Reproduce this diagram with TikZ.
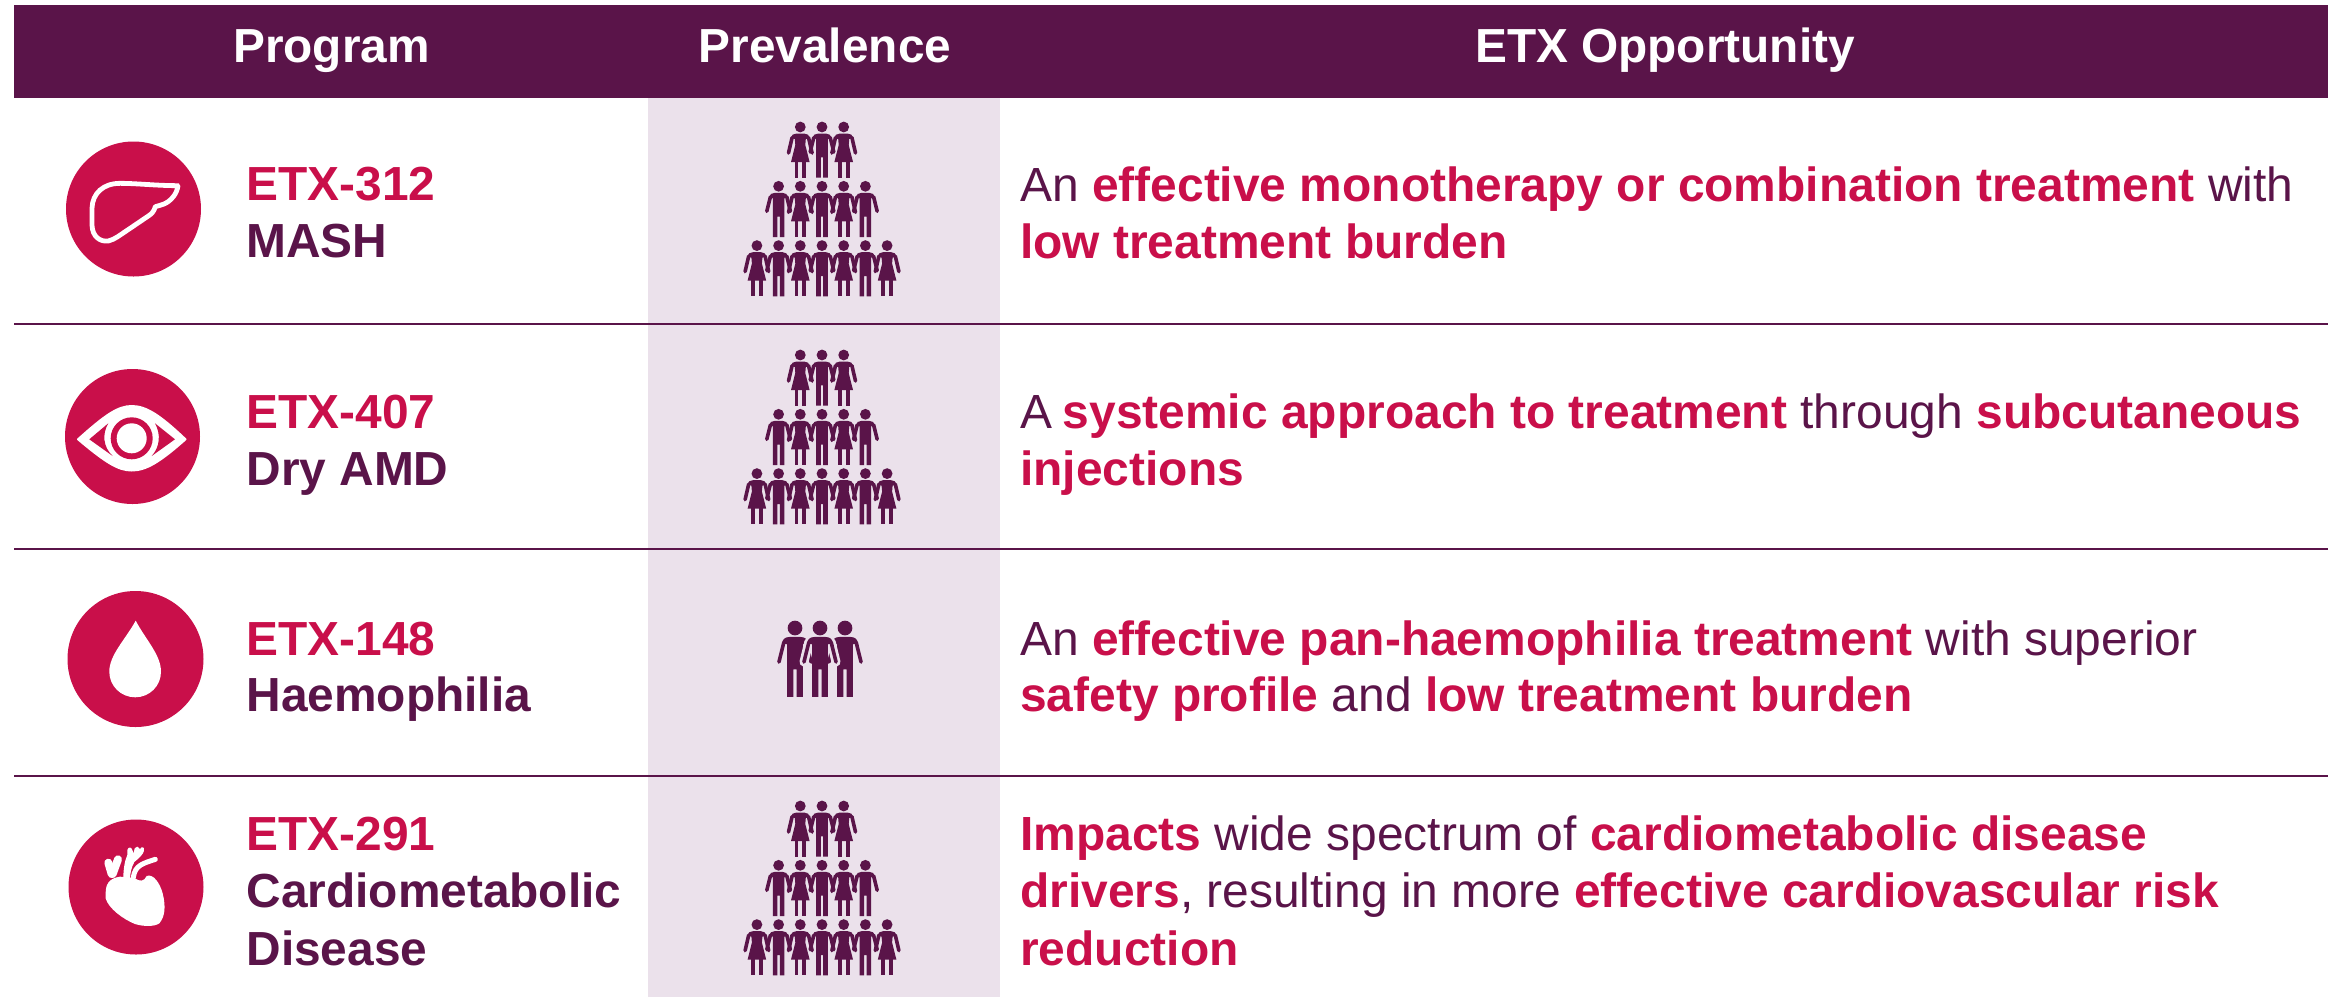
\documentclass[tikz,border=0pt]{standalone}
\usepackage{fontspec}
\setmainfont{Liberation Sans}
\definecolor{plum}{HTML}{5A1449}
\definecolor{crim}{HTML}{C90F4A}
\definecolor{paleplum}{HTML}{EBE1EB}
\newcommand{\pk}[1]{\textcolor{crim}{\textbf{#1}}}
\newcommand{\dk}[1]{\textcolor{plum}{\textbf{#1}}}
\tikzset{
  hd/.style={font=\fontsize{47.8}{57}\selectfont\bfseries,text=white,anchor=base,inner sep=0pt},
  lab/.style={font=\fontsize{47.85}{57}\selectfont,text=plum,anchor=base west,inner sep=0pt},
  opp/.style={lab,font=\fontsize{47.93}{57}\selectfont},
  rowline/.style={draw=plum,line width=2pt},
  iconcirc/.style={fill=crim,draw=none},
  man/.pic={
    \fill[plum] (0,0) circle[radius=5.4];
    \fill[plum] (-5.8,50.7)--(-5.8,12)--(-9.5,11) .. controls (-9,8) and (-7,6.6) .. (-4,6.6)--(4,6.6) .. controls (7,6.6) and (9,8) .. (9.5,11)--(5.8,12)--(5.8,50.7)--(1.2,50.7)--(1.2,30.4)--(-1.2,30.4)--(-1.2,50.7)--cycle;
    \draw[plum,line width=3.6pt,line cap=round] (-8.2,10.5)--(-11.8,25);
    \draw[plum,line width=3.6pt,line cap=round] (8.2,10.5)--(11.8,25);
  },
  woman/.pic={
    \fill[plum] (0,0) circle[radius=5.4];
    \fill[plum] (-9.3,35)--(-5,18)--(-5.5,12)--(-9.5,11) .. controls (-9,8) and (-7,6.6) .. (-4,6.6)--(4,6.6) .. controls (7,6.6) and (9,8) .. (9.5,11)--(5.5,12)--(5,18)--(9.3,35)--cycle;
    \fill[plum] (-5.7,34)--(-2,34)--(-2,50.7)--(-5.7,50.7)--cycle;
    \fill[plum] (2.1,34)--(5.8,34)--(5.8,50.7)--(2.1,50.7)--cycle;
    \draw[plum,line width=3.6pt,line cap=round] (-8.2,10.5)--(-11.8,26);
    \draw[plum,line width=3.6pt,line cap=round] (8.2,10.5)--(11.8,26);
  },
  pyramid/.pic={
    \foreach \i in {-1,1} \path (\i*21.7,0) pic {woman};
    \path (0,0) pic {man};
    \foreach \i in {-2,0,2} \path (\i*21.7,59.3) pic {man};
    \foreach \i in {-1,1} \path (\i*21.7,59.3) pic {woman};
    \foreach \i in {-3,-1,1,3} \path (\i*21.7,118.6) pic {woman};
    \foreach \i in {-2,0,2} \path (\i*21.7,118.6) pic {man};
  }
}
\begin{document}
\begin{tikzpicture}[x=1pt,y=-1pt]
\useasboundingbox (0,0) rectangle (2338,997);
\fill[white] (0,0) rectangle (2338,997);
% header and shaded column
\fill[plum] (14,5) rectangle (2328,98);
\fill[paleplum] (648,98) rectangle (1000,997);
\foreach \y in {323.5,549,775.5} \draw[rowline] (14,\y)--(2328,\y);
\node[hd] (h1) at (331.5,62) {Program};
\node[hd] (h2) at (825,62) {Prevalence};
\node[hd] (h3) at (1665,62) {ETX Opportunity};
% icon circles
\fill[iconcirc] (133.5,209) circle[radius=67.5];
\fill[iconcirc] (132.5,436.5) circle[radius=67.5];
\fill[iconcirc] (135.5,659) circle[radius=68];
\fill[iconcirc] (136,887) circle[radius=67.5];
% liver
\begin{scope}[shift={(60,140)},scale=1/3]
\draw[white,line width=4.8pt,line join=round] (354,137) .. controls (290,137) and (230,130) .. (180,130) .. controls (130,130) and (97,160) .. (96,205) -- (96,255) .. controls (97,290) and (120,306) .. (145,303) .. controls (165,298) and (180,285) .. (200,272) -- (265,228) .. controls (278,220) and (282,212) .. (286,200) .. controls (300,195) and (320,195) .. (340,170) .. controls (348,160) and (352,150) .. cycle;
\end{scope}
% eye
\fill[white,line join=round,draw=white,line width=2pt] (78,439.3) .. controls (105,415) and (118,406) .. (131.7,406) .. controls (146,406) and (160,415) .. (185.5,439.3) .. controls (160,462) and (146,470.5) .. (131.7,470.5) .. controls (118,470.5) and (105,462) .. cycle;
\fill[crim] (89.3,439.3)--(108.3,423.3) .. controls (102,434) and (103,447) .. (112.7,456)--cycle;
\fill[crim] (175,439.3)--(155,423.3) .. controls (161,434) and (160,447) .. (151.7,456)--cycle;
\fill[crim] (131.7,438.3) circle[radius=21];
\fill[white] (131.7,438.3) circle[radius=15];
% drop
\fill[white] (135.7,620.7) .. controls (125,640) and (109.3,655) .. (109.3,671.7) .. controls (109.3,686) and (121,697.3) .. (135.2,697.3) .. controls (149.5,697.3) and (161,686) .. (161,671.7) .. controls (161,655) and (146,640) .. cycle;
% heart
\begin{scope}[shift={(40,770)},scale=1/3]
\fill[white] (197,370) .. controls (197,345) and (205,325) .. (240,320) -- (268,322) -- (285,325) .. controls (300,335) and (312,335) .. (320,318) .. controls (340,310) and (360,340) .. (368,370) .. controls (378,410) and (375,440) .. (358,460) .. controls (345,470) and (310,470) .. (285,462) .. controls (250,448) and (205,415) .. (197,385) -- cycle;
\draw[white,line width=8pt,line cap=round,line join=round] (215,312)--(205,278);
\draw[white,line width=8pt,line cap=round,line join=round] (218,312)--(234,268);
\fill[white] (250,325) .. controls (250,295) and (255,270) .. (262,255) -- (262,240) .. controls (265,230) and (274,230) .. (277,240) -- (281,250) -- (284,235) .. controls (288,228) and (296,228) .. (298,235) -- (300,238) .. controls (304,226) and (315,232) .. (312,242) .. controls (310,252) and (300,262) .. (283,276) .. controls (275,290) and (270,310) .. (270,328) -- cycle;
\draw[white,line width=5pt,line cap=round] (280,322) .. controls (285,285) and (310,280) .. (346,268);
\end{scope}
% people
\foreach \py in {127,355,806} \path (822,\py) pic {pyramid};
\path (795,628) pic[scale=1.36] {man};
\path (845,628) pic[scale=1.36] {man};
\draw[paleplum,line width=9pt,line cap=round] (808.8,642)--(804,662);
\draw[paleplum,line width=9pt,line cap=round] (831.2,642)--(836,662);
\path (820,628) pic[scale=1.36] {man};
% program labels
\node[lab] (a1) at (246.3,200) {\pk{ETX-312}};
\node[lab] (b1) at (246.3,257) {\dk{MASH}};
\node[lab] (a2) at (246.3,428) {\pk{ETX-407}};
\node[lab] (b2) at (246.3,485) {\dk{Dry AMD}};
\node[lab] (a3) at (246.3,655) {\pk{ETX-148}};
\node[lab] (b3) at (246.3,711) {\dk{Haemophilia}};
\node[lab] (a4) at (246.3,850) {\pk{ETX-291}};
\node[lab] (b4) at (246.3,907) {\dk{Cardiometabolic}};
\node[lab] (c4) at (246.3,965) {\dk{Disease}};
% opportunity text
\node[opp] (t1) at (1020,201) {An \pk{effective monotherapy or combination treatment} with};
\node[opp] (t2) at (1020,258) {\pk{low treatment burden}};
\node[opp] (t3) at (1020,428) {A\kern-2.7pt{} \pk{systemic approach to treatment} through \pk{subcutaneous}};
\node[opp] (t4) at (1020,485) {\pk{injections}};
\node[opp] (t5) at (1020,655) {An \pk{effective pan-haemophilia treatment} with superior};
\node[opp] (t6) at (1020,711) {\pk{safety profile} and \pk{low treatment burden}};
\node[opp] (t7) at (1020,850) {\pk{Impacts} wide spectrum of \pk{cardiometabolic disease}};
\node[opp] (t8) at (1020,907) {\pk{drivers}, resulting in more \pk{effective cardiovascular risk}};
\node[opp] (t9) at (1020,965) {\pk{reduction}};
\end{tikzpicture}
\end{document}
